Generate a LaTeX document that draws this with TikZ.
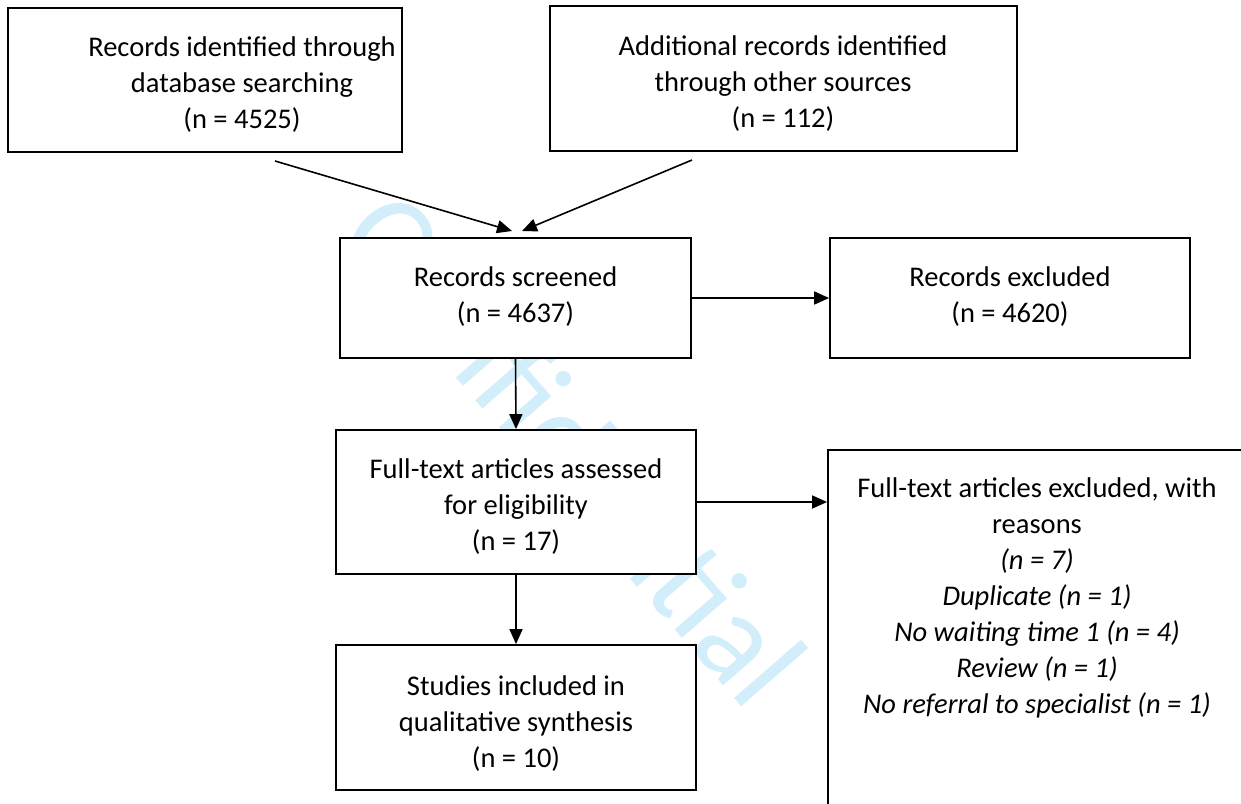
\documentclass[tikz,border=0pt]{standalone}
\usepackage{fontspec}
\setmainfont{Carlito}
\usetikzlibrary{arrows.meta}
\definecolor{wm}{RGB}{210,238,251}
\begin{document}
\begin{tikzpicture}[x=1pt,y=-1pt,
 box/.style={draw,line width=1.8pt,fill=white,inner sep=0pt},
 lbl/.style={align=center,font=\fontsize{28.5}{36}\selectfont,inner sep=0pt},
 arr/.style={line width=1.6pt,-{Triangle[length=15pt,width=13pt]}}]
\useasboundingbox (0,0) rectangle (1241,803);
\clip (0,0) rectangle (1241,803);
\node[rotate=-49, text=wm, font=\fontsize{128}{128}\selectfont] (wm) at (575,448) {Confidential};
% boxes
\node[box, minimum width=394pt, minimum height=144pt] (a) at (205,80) {};
\node[box, minimum width=467pt, minimum height=145pt] (b) at (783.5,78.5) {};
\node[box, minimum width=351pt, minimum height=120pt] (s) at (515.5,298) {};
\node[box, minimum width=360pt, minimum height=120pt] (e) at (1010,298) {};
\node[box, minimum width=360pt, minimum height=144pt] (f) at (516,502) {};
\node[box, minimum width=360pt, minimum height=145pt] (st) at (516,717.5) {};
\node[box, minimum width=422pt, minimum height=360pt] (x) at (1039,630) {};
% texts
\node[lbl] (at) at (242,85) {Records identified through\\database searching\\(n = 4525)};
\node[lbl] (bt) at (783,84) {Additional records identified\\through other sources\\(n = 112)};
\node[lbl] (sst) at (515.5,297) {Records screened\\(n = 4637)};
\node[lbl] (et) at (1010,297) {Records excluded\\(n = 4620)};
\node[lbl] (ft) at (516,507) {Full-text articles assessed\\for eligibility\\(n = 17)};
\node[lbl] (stt) at (516,724) {Studies included in\\qualitative synthesis\\(n = 10)};
\node[lbl] (xt) at (1037,598) {Full-text articles excluded, with\\reasons\\\textit{(n = 7)}\\\textit{Duplicate (n = 1)}\\\textit{No waiting time 1 (n = 4)}\\\textit{Review (n = 1)}\\\textit{No referral to specialist (n = 1)}};
% connectors
\coordinate (a1) at (275,161);
\coordinate (b1) at (692,160);
\coordinate (s1) at (512,231);
\coordinate (s2) at (522,231);
\draw[arr] (a1) -- (s1);
\draw[arr] (b1) -- (s2);
\draw[arr] (s.east) -- (e.west);
\draw[arr] (s.south) -- (f.north);
\draw[arr] (f.east) -- (f.east -| x.west);
\draw[arr] (f.south) -- (st.north);
\end{tikzpicture}
\end{document}
